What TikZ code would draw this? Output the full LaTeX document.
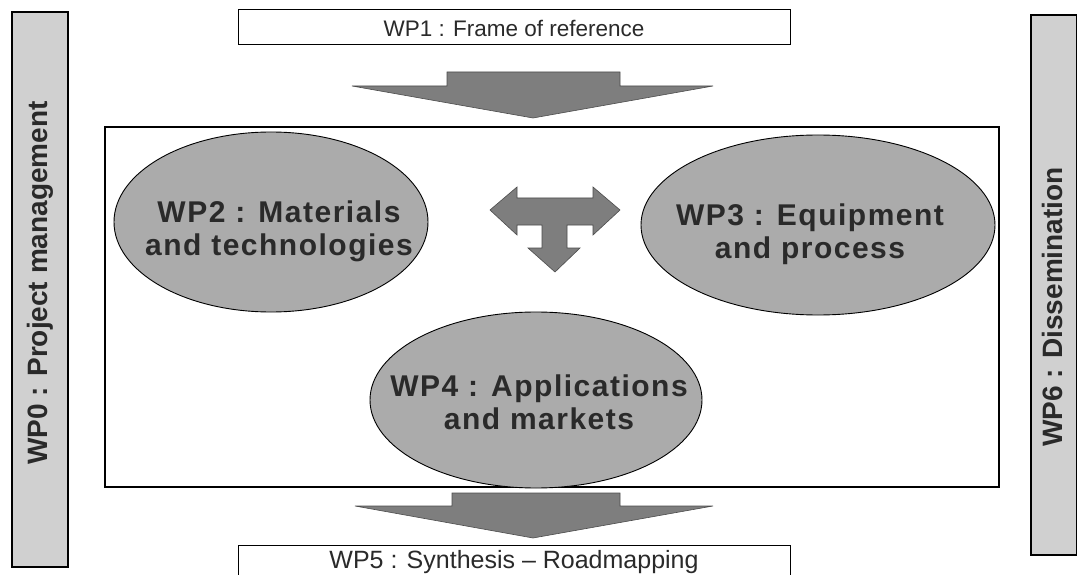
\documentclass[tikz,border=0pt]{standalone}
\usepackage{fontspec}
\setmainfont{Liberation Sans}
\usetikzlibrary{shapes.geometric}
\definecolor{sidegray}{HTML}{D0D0D0}
\definecolor{ellgray}{HTML}{ABABAB}
\definecolor{arrgray}{HTML}{7E7E7E}
\definecolor{txtdark}{HTML}{2A2A2A}
\tikzset{
  sidebox/.style={draw=black, line width=1.2pt, fill=sidegray},
  wpbox/.style={draw=black, line width=1pt, fill=white},
  wpell/.style={ellipse, draw=black, line width=0.9pt, fill=ellgray, inner sep=0pt},
  elltext/.style={font=\fontsize{30}{33}\selectfont\bfseries\addfontfeature{LetterSpace=5}, text=txtdark, align=center},
  sidetext/.style={font=\fontsize{28}{30}\selectfont\bfseries, text=txtdark, rotate=90},
  boxtext/.style={font=\fontsize{22.5}{24}\selectfont, text=txtdark},
  bigarrow/.style={fill=arrgray, draw=black!70, line width=0.6pt},
}
\begin{document}
\begin{tikzpicture}[x=1pt,y=-1pt]
\useasboundingbox (0,0) rectangle (1077,575);
% side boxes
\draw[sidebox] (12,12) rectangle (68,567);
\node[sidetext] (wp0) at (40,283) {WP0 : Project management};
\draw[sidebox] (1031,15) rectangle (1076.5,555);
\node[sidetext] (wp6) at (1052,307) {WP6 : Dissemination};
% WP1 box
\draw[wpbox] (238,10) rectangle (790,45);
\node[boxtext] (wp1) at (514,28) {WP1 : Frame of reference};
% top arrow
\filldraw[bigarrow] (447,72) -- (620,72) -- (620,86) -- (713,86) -- (533,118) -- (352,86) -- (447,86) -- cycle;
% main box
\draw[wpbox, line width=1.1pt] (105,127) rectangle (999,487);
% ellipses
\node[wpell, minimum width=314pt, minimum height=180pt] (wp2) at (271,222) {};
\node[elltext] (t2) at (279,231) {WP2 : Materials\\and technologies};
\node[wpell, minimum width=354pt, minimum height=180pt] (wp3) at (818,225) {};
\node[elltext] (t3) at (810,234) {WP3 : Equipment\\and process};
\node[wpell, minimum width=332pt, minimum height=176pt] (wp4) at (536,400) {};
\node[elltext] (t4) at (539,402) {WP4 : Applications\\and markets};
% T arrow
\filldraw[bigarrow] (490,210) -- (517,187) -- (517,198) -- (593,198) -- (593,187) -- (620,210)
  -- (593,235) -- (593,225) -- (567,225) -- (567,248) -- (580,248) -- (555,272) -- (528,248)
  -- (542,248) -- (542,225) -- (517,225) -- (517,235) -- cycle;
% bottom arrow
\filldraw[bigarrow] (452,493) -- (620,493) -- (620,506) -- (713,506) -- (533,538) -- (355,506) -- (452,506) -- cycle;
% WP5 box
\draw[wpbox] (238,545) rectangle (790,580);
\node[font=\fontsize{25}{27}\selectfont, text=txtdark] (wp5) at (514,562) {WP5 : Synthesis -- Roadmapping};
\end{tikzpicture}
\end{document}
